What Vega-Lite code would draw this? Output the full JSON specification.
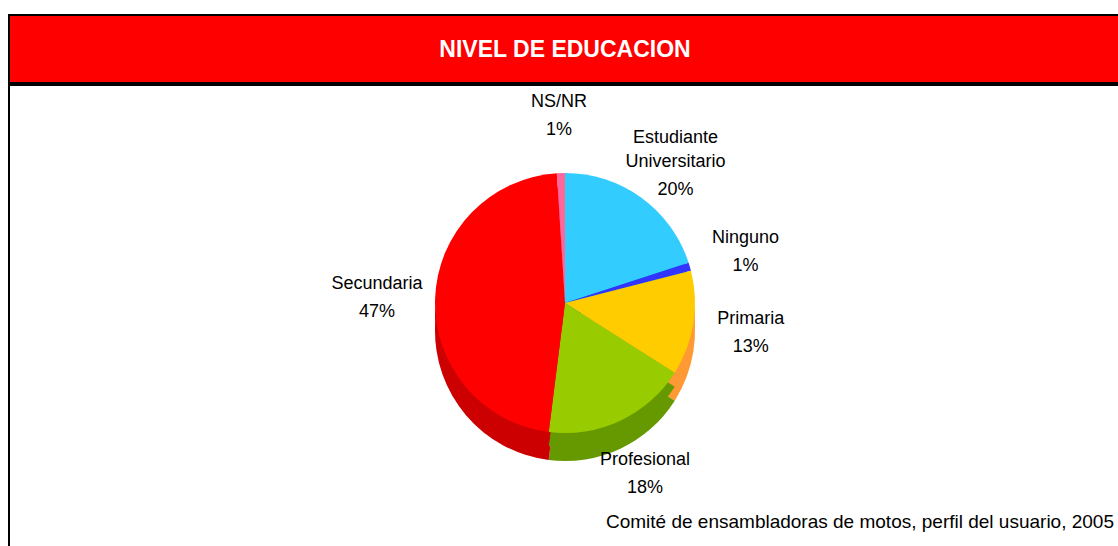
{
  "$schema": "https://vega.github.io/schema/vega-lite/v6.json",
  "padding": {"left": 8, "top": 14, "right": 0, "bottom": 0},
  "background": "white",
  "spacing": 0,
  "config": {"view": {"stroke": "#000000", "strokeWidth": 2}, "concat": {"spacing": 0}},
  "datasets": {
    "edu": [
      {"category": "Estudiante Universitario", "share": 0.20, "ord": 1},
      {"category": "Ninguno", "share": 0.01, "ord": 2},
      {"category": "Primaria", "share": 0.13, "ord": 3},
      {"category": "Profesional", "share": 0.18, "ord": 4},
      {"category": "Secundaria", "share": 0.47, "ord": 5},
      {"category": "NS/NR", "share": 0.01, "ord": 6}
    ]
  },
  "vconcat": [
    {
      "width": 1112,
      "height": 68,
      "view": {"fill": "#FF0000", "stroke": "#000000", "strokeWidth": 2},
      "data": {"values": [{"titulo": "NIVEL DE EDUCACION"}]},
      "mark": {"type": "text", "color": "#FFFFFF", "font": "Liberation Sans", "fontWeight": "bold", "fontSize": 23, "baseline": "middle", "align": "center", "dy": 1},
      "encoding": {"text": {"field": "titulo", "type": "nominal"}}
    },
    {
      "width": 1112,
      "height": 466,
      "view": {"stroke": "#000000", "strokeWidth": 2},
      "title": {
        "text": "Comité de ensambladoras de motos, perfil del usuario, 2005",
        "orient": "bottom",
        "anchor": "end",
        "offset": -38,
        "dx": -7,
        "font": "Liberation Sans",
        "fontSize": 19,
        "fontWeight": "normal",
        "color": "#000000"
      },
      "data": {"name": "edu"},
      "encoding": {
        "theta": {"field": "share", "type": "quantitative", "stack": true},
        "order": {"field": "ord", "type": "quantitative"}
      },
      "layer": [
        {
          "mark": {"type": "arc", "outerRadius": 130, "yOffset": 13},
          "encoding": {"color": {"field": "category", "type": "nominal", "legend": null,
            "scale": {"domain": ["Estudiante Universitario", "Ninguno", "Primaria", "Profesional", "Secundaria", "NS/NR"],
                      "range": ["#0099CC", "#0000CC", "#FF9933", "#669900", "#CC0000", "#CC3366"]}}}
        },
        {
          "mark": {"type": "arc", "outerRadius": 130, "yOffset": -1},
          "encoding": {"color": {"field": "category", "type": "nominal", "legend": null,
            "scale": {"domain": ["Estudiante Universitario", "Ninguno", "Primaria", "Profesional", "Secundaria", "NS/NR"],
                      "range": ["#0099CC", "#0000CC", "#FF9933", "#669900", "#CC0000", "#CC3366"]}}}
        },
        {
          "mark": {"type": "arc", "outerRadius": 130, "yOffset": -15},
          "encoding": {"color": {"field": "category", "type": "nominal", "legend": null,
            "scale": {"domain": ["Estudiante Universitario", "Ninguno", "Primaria", "Profesional", "Secundaria", "NS/NR"],
                      "range": ["#33CCFF", "#3333FF", "#FFCC00", "#99CC00", "#FF0000", "#FF6699"]}}}
        },
        {
          "mark": {"type": "text", "radius": 188, "baseline": "bottom", "align": "center", "dy": -19, "lineBreak": " ", "lineHeight": 24,
                   "font": "Liberation Sans", "fontSize": 18, "color": "#000000"},
          "encoding": {"text": {"field": "category", "type": "nominal"}}
        },
        {
          "mark": {"type": "text", "radius": 188, "baseline": "top", "align": "center", "dy": -9,
                   "font": "Liberation Sans", "fontSize": 18, "color": "#000000"},
          "encoding": {"text": {"condition": {"test": "datum.category === 'Estudiante Universitario'", "value": ""}, "field": "share", "type": "quantitative", "format": ".0%"}}
        },
        {
          "mark": {"type": "text", "radius": 188, "baseline": "top", "align": "center", "dy": 15,
                   "font": "Liberation Sans", "fontSize": 18, "color": "#000000"},
          "encoding": {"text": {"condition": {"test": "datum.category !== 'Estudiante Universitario'", "value": ""}, "field": "share", "type": "quantitative", "format": ".0%"}}
        }
      ],
      "resolve": {"scale": {"color": "independent"}}
    }
  ]
}
